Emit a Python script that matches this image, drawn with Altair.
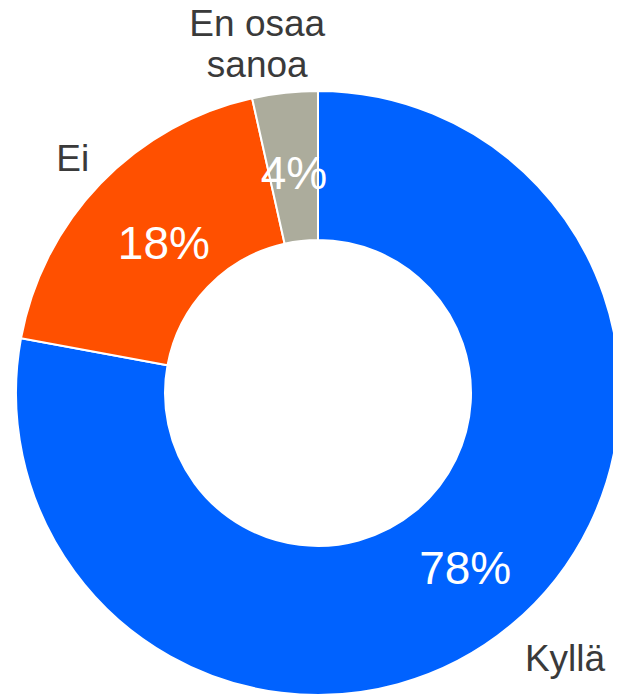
import altair as alt
import pandas as pd

categories = ["Kyllä", "Ei", "En osaa sanoa"]
shares = [77.9, 18.6, 3.5]
pct_labels = ["78%", "18%", "4%"]
cat_labels = ["Kyllä", "Ei", "En osaa\nsanoa"]
colors = ["#0062FF", "#FF5000", "#ACAC9C"]

df = pd.DataFrame({
    "cat": categories,
    "share": shares,
    "pct": pct_labels,
    "lab": cat_labels,
    "idx": list(range(len(categories))),
})

CX, CY = 310, 385
theta = alt.Theta("share:Q", stack=True)
order = alt.Order("idx:Q", sort="ascending")

base = alt.Chart(df)

arc = base.mark_arc(outerRadius=302, innerRadius=153, stroke="white", strokeWidth=2).encode(
    theta=theta,
    order=order,
    color=alt.Color("cat:N", scale=alt.Scale(domain=categories, range=colors), legend=None),
    x=alt.value(CX),
    y=alt.value(CY),
)

pct_radius = {"Kyllä": 230, "Ei": 214, "En osaa sanoa": 219}
cat_radius = {"Kyllä": 361, "Ei": 339, "En osaa sanoa": 353}
cat_shift = {"Kyllä": (16, -10), "Ei": (-1, 2), "En osaa sanoa": (-22, -17)}

layers = [arc]
for c in categories:
    layers.append(
        base.mark_text(radius=pct_radius[c], font="Liberation Sans", fontSize=46,
                       color="white", align="center", baseline="middle").encode(
            theta=theta, order=order,
            text=alt.condition(alt.datum.cat == c, "pct:N", alt.value("")),
            x=alt.value(CX), y=alt.value(CY),
        )
    )
    layers.append(
        base.mark_text(radius=cat_radius[c], font="Liberation Sans", fontSize=37,
                       color="#3a3a3a", align="center", baseline="middle",
                       dx=cat_shift[c][0], dy=cat_shift[c][1],
                       lineBreak="\n", lineHeight=41).encode(
            theta=theta, order=order,
            text=alt.condition(alt.datum.cat == c, "lab:N", alt.value("")),
            x=alt.value(CX), y=alt.value(CY),
        )
    )

chart = alt.layer(*layers).properties(
    width=605, height=688, padding=0, autosize=alt.AutoSizeParams(type="none")
).configure_view(stroke=None)

chart.save("out.html", embed_options={"renderer": "svg", "actions": False})
